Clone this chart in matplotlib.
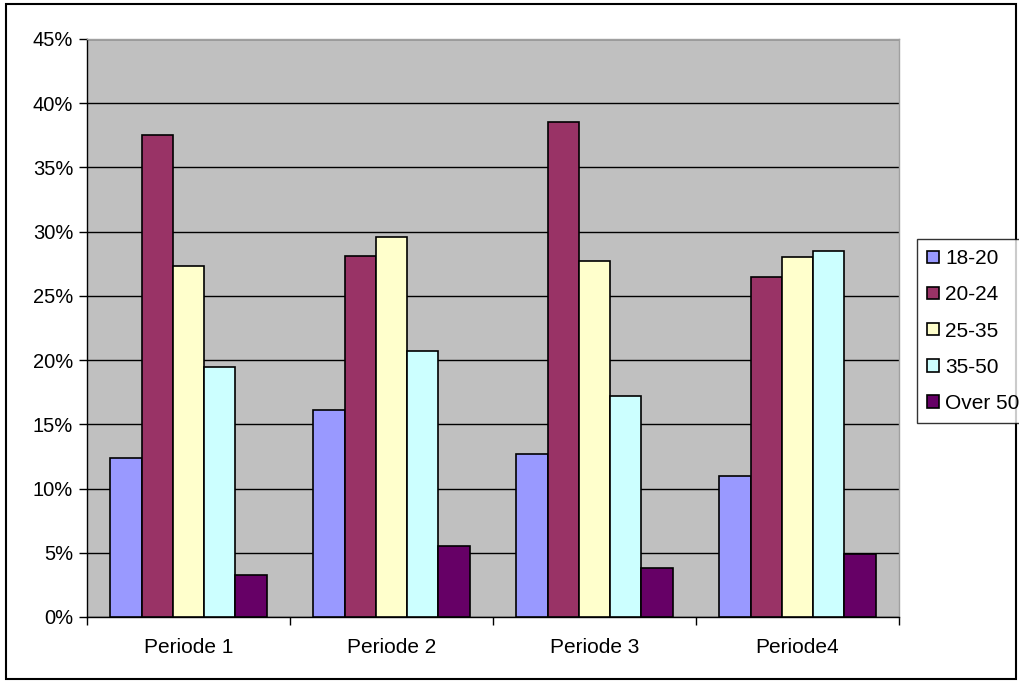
import matplotlib
matplotlib.use("Agg")
import matplotlib.pyplot as plt
from matplotlib.patches import Rectangle
from matplotlib.ticker import FixedLocator, PercentFormatter
import numpy as np

plt.rcParams['font.family'] = ['Liberation Sans', 'DejaVu Sans']

# Data (percent)
periods = ["Periode 1", "Periode 2", "Periode 3", "Periode4"]
groups = ["18-20", "20-24", "25-35", "35-50", "Over 50"]
v_18_20 = [12.4, 16.1, 12.7, 11.0]
v_20_24 = [37.5, 28.1, 38.5, 26.5]
v_25_35 = [27.3, 29.6, 27.7, 28.0]
v_35_50 = [19.5, 20.7, 17.2, 28.5]
v_over50 = [3.3, 5.5, 3.8, 4.9]
colors = ["#9999FF", "#993366", "#FFFFCC", "#CCFFFF", "#660066"]

series = [v_18_20, v_20_24, v_25_35, v_35_50, v_over50]

fig = plt.figure(figsize=(10.2, 6.83), dpi=100)
ax = fig.add_axes([87 / 1020, 1 - 617 / 683, (899 - 87) / 1020, (617 - 39) / 683])
ax.set_facecolor("#C0C0C0")

x = np.arange(len(periods))
bw = 0.77 / len(groups)
for i, (vals, col, lab) in enumerate(zip(series, colors, groups)):
    offs = (i - (len(groups) - 1) / 2) * bw
    ax.bar(x + offs, vals, width=bw, color=col, edgecolor="black",
           linewidth=1.2, label=lab, zorder=3)

ax.set_xlim(-0.5, len(periods) - 0.5)
ax.set_ylim(0, 45)
ax.set_yticks(np.arange(0, 46, 5))
ax.yaxis.set_major_formatter(PercentFormatter(decimals=0))
ax.grid(axis="y", color="black", linewidth=1, zorder=1)
ax.set_axisbelow(True)

# category boundaries get the tick marks, centres get the labels
ax.xaxis.set_major_locator(FixedLocator(np.arange(-0.5, len(periods), 1.0)))
ax.xaxis.set_major_formatter(plt.NullFormatter())
ax.xaxis.set_minor_locator(FixedLocator(x))
ax.set_xticklabels(periods, minor=True)
ax.tick_params(axis="x", which="major", length=6, width=1, direction="out")
ax.tick_params(axis="x", which="minor", length=0, pad=15, labelsize=15)
ax.tick_params(axis="y", length=6, width=1, direction="out", labelsize=14.5, pad=4)

for s in ["top", "right"]:
    ax.spines[s].set_color("#A0A0A0")
    ax.spines[s].set_linewidth(1)
for s in ["left", "bottom"]:
    ax.spines[s].set_color("black")
    ax.spines[s].set_linewidth(1)

leg = fig.legend(loc="upper left", bbox_to_anchor=(917 / 1020, 1 - 239 / 683),
                 frameon=True, fancybox=False, edgecolor="black",
                 fontsize=15, handlelength=0.55, handleheight=0.55,
                 handletextpad=0.3, labelspacing=0.82, borderpad=0.5,
                 borderaxespad=0)
leg.get_frame().set_linewidth(1)

fig.patches.append(Rectangle((6 / 1020, 4 / 683), 1010 / 1020, 675 / 683,
                             transform=fig.transFigure, fill=False,
                             edgecolor="black", linewidth=1.5))

fig.savefig("out.png", dpi=100)
